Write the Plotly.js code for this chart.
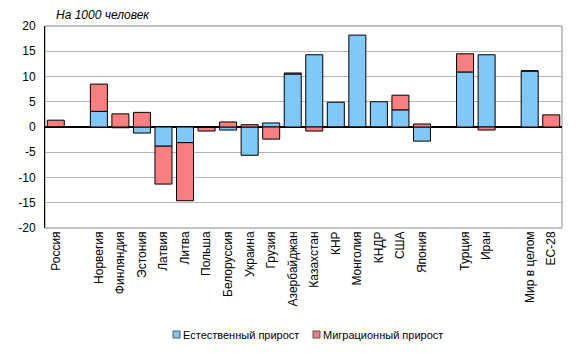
<!DOCTYPE html>
<html><head><meta charset="utf-8">
<script src="https://cdn.plot.ly/plotly-3.0.1.min.js"></script>
<style>html,body{margin:0;padding:0;background:#fff}#chart{width:576px;height:354px}</style>
</head><body><div id="chart"></div>
<script>
const categories = ['Россия',' ','Норвегия','Финляндия','Эстония','Латвия','Литва','Польша','Белоруссия','Украина','Грузия','Азербайджан','Казахстан','КНР','Монголия','КНДР','США','Япония','  ','Турция','Иран','   ','Мир в целом','ЕС-28'];
const natural   = [0.05, null, 3.1, -0.15, -1.2, -3.8, -3.1, -0.1, -0.6, -5.6, 0.8, 10.5, 14.3, 4.9, 18.2, 5.0, 3.4, -2.8, null, 10.9, 14.3, null, 11.1, -0.1];
const migration = [1.3, null, 5.4, 2.6, 2.9, -7.5, -11.5, -0.7, 1.0, 0.45, -2.4, 0.2, -0.8, -0.1, -0.1, -0.1, 2.9, 0.6, null, 3.6, -0.6, null, 0.0, 2.4];
const seriesNames = ['Естественный прирост','Миграционный прирост'];
const seriesColors = ['#80c8f8','#f87f7f'];
const yTicks = [-20,-15,-10,-5,0,5,10,15,20];

const fam = 'Liberation Sans, Arial, sans-serif';
const traces = [
  {type:'bar', name:seriesNames[0], x:categories, y:natural, showlegend:false,
   marker:{color:seriesColors[0], line:{color:'#000', width:1}}},
  {type:'bar', name:seriesNames[1], x:categories, y:migration, showlegend:false,
   marker:{color:seriesColors[1], line:{color:'#000', width:1}}}
];
// legend drawn as shapes + text (paper coords of plot area 45..562 x 26..228)
const W = 517, H = 202;
const px = v => (v - 45) / W;
const py = v => (228 - v) / H;
const legendX = [173, 313];
const shapes = [{type:'rect', xref:'paper', yref:'paper', x0:0, x1:1, y0:0, y1:1,
           line:{color:'#8a8a8a', width:1}, fillcolor:'rgba(0,0,0,0)', layer:'below'}];
const annotations = [{text:'<i>На 1000 человек</i>', xref:'paper', yref:'paper', x:px(54), y:py(15),
                xanchor:'left', yanchor:'middle', showarrow:false,
                font:{family:fam, size:12, color:'#000'}}];
seriesNames.forEach((n,i)=>{
  shapes.push({type:'rect', xref:'paper', yref:'paper', x0:px(legendX[i]), x1:px(legendX[i]+7),
     y0:py(338), y1:py(331), fillcolor:seriesColors[i], line:{color:'#555', width:1}});
  annotations.push({text:n, xref:'paper', yref:'paper', x:px(legendX[i]+8), y:py(334.5),
     xanchor:'left', yanchor:'middle', showarrow:false, font:{family:fam, size:11, color:'#000'}});
});
const layout = {
  width:576, height:354,
  margin:{l:45, r:14, t:26, b:126, pad:0},
  paper_bgcolor:'#fff', plot_bgcolor:'#fff',
  barmode:'relative', bargap:0.21,
  font:{family:fam, size:12, color:'#000'},
  showlegend:false,
  xaxis:{type:'category', categoryorder:'array', categoryarray:categories, automargin:false,
         tickangle:-90, tickfont:{family:fam, size:12, color:'#000'},
         showgrid:false, ticks:'', showline:false, zeroline:false, fixedrange:true},
  yaxis:{range:[-20,20], tickvals:yTicks, ticktext:yTicks.map(String), automargin:false,
         tickfont:{family:fam, size:12, color:'#000'}, ticklabelstandoff:6,
         showgrid:true, gridcolor:'#b4b4b4', gridwidth:1,
         zeroline:true, zerolinecolor:'#000', zerolinewidth:1.5,
         showline:true, linecolor:'#000', linewidth:1, ticks:'', fixedrange:true},
  shapes:shapes,
  annotations:annotations
};
Plotly.newPlot('chart', traces, layout, {staticPlot:true, displayModeBar:false});
</script></body></html>
